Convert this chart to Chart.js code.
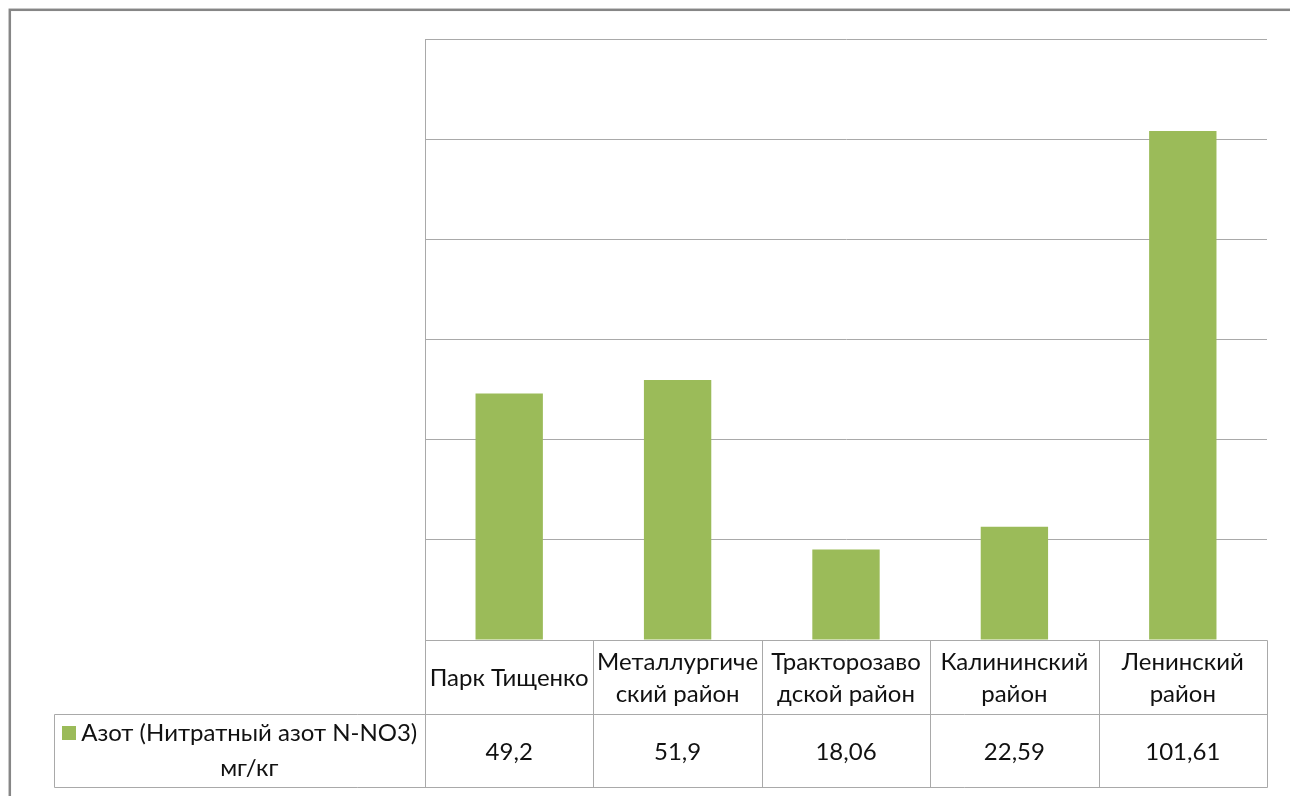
<!DOCTYPE html>
<html>
<head>
<meta charset="utf-8">
<script src="https://cdn.jsdelivr.net/npm/chart.js@4/dist/chart.umd.min.js"></script>
<style>
  html, body { margin: 0; padding: 0; background: #fff; }
  #wrap { position: relative; width: 1290px; height: 796px; }
</style>
</head>
<body>
<div id="wrap"><canvas id="c" width="1290" height="796"></canvas></div>
<script>
// Sampling sites (wrapped as shown in the data table header row)
const categories = [
  ['Парк Тищенко'],
  ['Металлургиче', 'ский район'],
  ['Тракторозаво', 'дской район'],
  ['Калининский', 'район'],
  ['Ленинский', 'район']
];
// Series name (two lines in the legend cell)
const seriesName = ['Азот (Нитратный азот N-NO3)', 'мг/кг'];
// Nitrate nitrogen, mg/kg
const nitrateValues = [49.2, 51.9, 18.06, 22.59, 101.61];
// Value axis gridline positions (labels are hidden)
const yTicks = [0, 20, 40, 60, 80, 100, 120];

const FONT = '24px Lato, "Noto Sans", sans-serif';
const GRID = '#a9a9a9';
const BAR = '#9bbb59';
const TEXT = '#111111';

const fmt = v => String(v).replace('.', ',');

// Outer chart frame (only top and left edges fall inside the page)
const frame = {
  id: 'frame',
  afterDraw(chart) {
    const ctx = chart.ctx;
    ctx.save();
    ctx.strokeStyle = '#868686';
    ctx.lineWidth = 2.5;
    ctx.strokeRect(9.8, 9.8, 1400, 900);
    ctx.restore();
  }
};

// Data table under the plot: category header row + value row with legend key
const dataTable = {
  id: 'dataTable',
  afterDraw(chart) {
    const ctx = chart.ctx, a = chart.chartArea, xs = chart.scales.x;
    const n = categories.length;
    const colW = (a.right - a.left) / n;
    const top = a.bottom, mid = top + 74, bot = mid + 73;
    const legendLeft = 54.5;
    const px = v => Math.round(v) + 0.5;
    const line = (x1, y1, x2, y2) => { ctx.beginPath(); ctx.moveTo(x1, y1); ctx.lineTo(x2, y2); ctx.stroke(); };

    ctx.save();
    ctx.strokeStyle = GRID;
    ctx.lineWidth = 1;
    line(px(a.left), px(top), px(a.right), px(top));
    line(legendLeft, px(mid), px(a.right), px(mid));
    line(legendLeft, px(bot), px(a.right), px(bot));
    for (let i = 0; i <= n; i++) {
      const xx = px(a.left + i * colW);
      line(xx, px(top), xx, px(bot));
    }
    line(legendLeft, px(mid), legendLeft, px(bot));

    ctx.fillStyle = TEXT;
    ctx.font = FONT;
    ctx.textAlign = 'center';
    ctx.textBaseline = 'middle';
    const values = chart.data.datasets[0].data;
    categories.forEach((lines, i) => {
      const cx = xs.getPixelForValue(i);
      const cy = (top + mid) / 2 + 1;
      lines.forEach((t, j) => ctx.fillText(t, cx, cy + (j - (lines.length - 1) / 2) * 32));
      ctx.fillText(fmt(values[i]), cx, (mid + bot) / 2 + 2);
    });

    // legend key
    const cellC = (legendLeft + a.left) / 2;
    const w1 = ctx.measureText(seriesName[0]).width;
    const sw = 14, gap = 5;
    const startX = cellC - (sw + gap + w1) / 2;
    const ly = (mid + bot) / 2;
    ctx.fillStyle = BAR;
    ctx.fillRect(Math.round(startX), Math.round(ly - 17.5 - 7), sw, sw);
    ctx.fillStyle = TEXT;
    ctx.textAlign = 'left';
    ctx.fillText(seriesName[0], startX + sw + gap, ly - 17);
    ctx.textAlign = 'center';
    ctx.fillText(seriesName[1], startX + sw + gap + w1 / 2, ly + 18);
    ctx.restore();
  }
};

new Chart(document.getElementById('c'), {
  type: 'bar',
  data: {
    labels: categories,
    datasets: [{
      label: seriesName.join(' '),
      data: nitrateValues,
      backgroundColor: BAR,
      borderWidth: 0,
      barPercentage: 0.4,
      categoryPercentage: 1.0
    }]
  },
  options: {
    responsive: false,
    animation: false,
    devicePixelRatio: 1,
    layout: { padding: { left: 425, right: 23, top: 39, bottom: 156 } },
    plugins: { legend: { display: false }, tooltip: { enabled: false } },
    scales: {
      x: { display: false, offset: true },
      y: {
        min: yTicks[0],
        max: yTicks[yTicks.length - 1],
        afterBuildTicks: s => { s.ticks = yTicks.map(v => ({ value: v })); },
        ticks: { display: false },
        grid: { color: GRID, drawTicks: false },
        border: { display: true, color: GRID }
      }
    }
  },
  plugins: [frame, dataTable]
});
</script>
</body>
</html>
